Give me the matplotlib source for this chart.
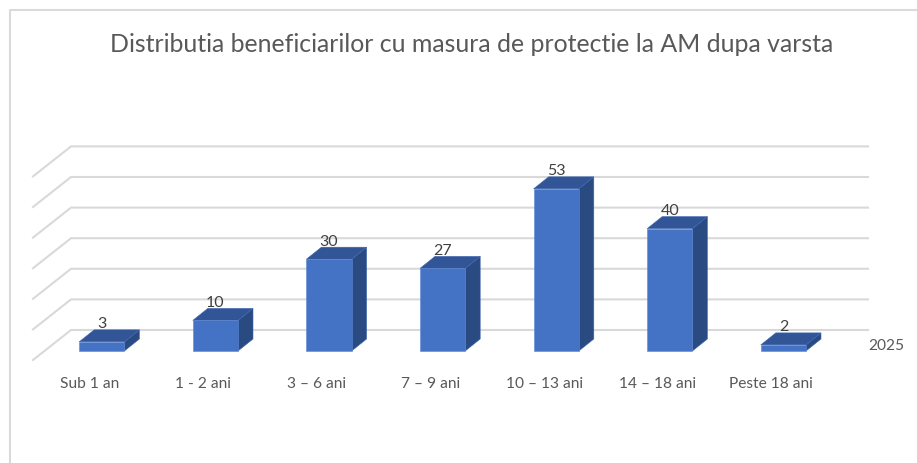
import matplotlib
matplotlib.use("Agg")
import matplotlib.pyplot as plt
from matplotlib.patches import Polygon

plt.rcParams['font.family'] = ['Lato', 'DejaVu Sans']

title = "Distributia beneficiarilor cu masura de protectie la AM dupa varsta"
categories = ["Sub 1 an", "1 - 2 ani", "3 – 6 ani", "7 – 9 ani", "10 – 13 ani", "14 – 18 ani", "Peste 18 ani"]
values = [3, 10, 30, 27, 53, 40, 2]
grid_values = [0, 10, 20, 30, 40, 50, 60]
series_label = "2025"

W, H = 917, 463
STEP = 113.6      # px per category
X0 = 101.8        # px of first bar centre
UNIT = 3.06       # px per value unit
Y0 = 351.0        # px of value 0 at the bar front
BAR_W = 45.2
TEXT = '#595959'
GRID = '#D9D9D9'
FRONT, SIDE, TOP = '#4472C4', '#2A4A82', '#325597'

fig = plt.figure(figsize=(W / 100, H / 100), dpi=100, facecolor='white')
ax = fig.add_axes([0, 0, 1, 1])
ax.set_xlim((0 - X0) / STEP, (W - X0) / STEP)
ax.set_ylim((Y0 - H) / UNIT, Y0 / UNIT)
ax.axis('off')

px = lambda p: p / STEP    # horizontal px -> category units
py = lambda p: p / UNIT    # vertical px -> value units

# chart frame
fig.add_artist(plt.Line2D([9.5 / W, 9.5 / W, 1], [0, 1 - 9.5 / H, 1 - 9.5 / H], color='#DADADA', lw=1.5))

# gridlines: side wall and back wall
x_front, x_back, x_end = px(33 - X0), px(71 - X0), px(868 - X0)
for g in grid_values:
    ax.plot([x_front, x_back, x_end], [g + py(-9), g + py(21), g + py(21)],
            color=GRID, lw=1.5, solid_joinstyle='miter', zorder=1)

# bars
dx, dy = px(15), py(12)
w = px(BAR_W)
for i, v in enumerate(values):
    l, r = i - w / 2, i + w / 2
    ax.add_patch(Polygon([(r, 0), (r + dx, dy), (r + dx, v + dy), (r, v)], fc=SIDE, ec='#3F66AE', lw=0.4, zorder=3))
    ax.add_patch(Polygon([(l, v), (l + dx, v + dy), (r + dx, v + dy), (r, v)], fc=TOP, ec='#3F66AE', lw=0.4, zorder=3))
    ax.bar(i, v, width=w, color=FRONT, edgecolor='#5B86D0', linewidth=0.4, zorder=4)
    ax.text(i, v + dy + py(5.5), str(v), ha='center', va='center', color='#404040', fontsize=11.5, zorder=5)
    ax.text(i + px(-12), py(-32.5), categories[i], ha='center', va='center', color=TEXT, fontsize=11.2, zorder=5)

ax.text(px(886.5 - X0), py(351 - 345.5), series_label, ha='center', va='center', color=TEXT, fontsize=11.2)
ax.text(px(471.5 - X0), py(351 - 44.5), title, ha='center', va='center', color=TEXT, fontsize=17.9)

fig.savefig('out.png', dpi=100)
